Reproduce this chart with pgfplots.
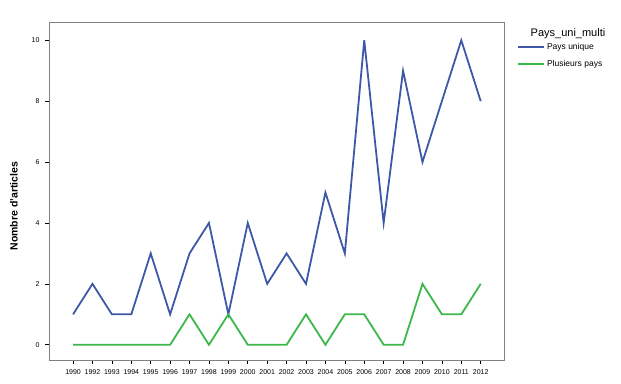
\documentclass[border=0pt]{standalone}
\usepackage{pgfplots}
\pgfplotsset{compat=1.18}
\usepackage{fontspec}
\setmainfont{Liberation Sans}
\definecolor{spssblue}{RGB}{62,88,168}
\definecolor{spssgreen}{RGB}{60,184,74}
\definecolor{framegray}{RGB}{128,128,128}
\begin{document}
\begin{tikzpicture}[x=1pt,y=1pt]
\path[use as bounding box] (0,0) rectangle (621,383);
\begin{axis}[
  at={(49pt,23pt)}, anchor=south west,
  scale only axis, width=455pt, height=338pt,
  xmin=-1.24, xmax=22.2,
  ymin=-0.5, ymax=10.6,
  xtick={0,...,21},
  xticklabels={1990,1992,1993,1994,1995,1996,1997,1998,1999,2000,2001,2002,2003,2004,2005,2006,2007,2008,2009,2010,2011,2012},
  ytick={0,2,4,6,8,10},
  tick align=outside,
  xtick pos=bottom, ytick pos=left,
  major tick length=4pt,
  tick style={black, line width=0.6pt},
  axis line style={framegray, line width=0.8pt},
  ticklabel style={font=\fontsize{7}{8}\selectfont},
  /pgf/number format/assume math mode=true,
  ylabel={\textbf{Nombre d'articles}},
  ylabel style={font=\fontsize{10.5}{12}\selectfont, at={(axis description cs:-0.077,0.455)}, anchor=center, rotate=0},
  xticklabel style={yshift=-2pt},
  yticklabel style={xshift=-2pt},
  legend style={at={(1,1)}, anchor=north west, xshift=12pt, yshift=-18pt, draw=none, fill=none,
    font=\fontsize{8.5}{10}\selectfont, row sep=5pt, inner sep=1pt},
  legend cell align=left,
  legend image code/.code={\draw[#1, line width=1.8pt] (0pt,0pt) -- (26pt,0pt);},
]
\addplot[spssblue, line width=1.8pt, line join=miter] coordinates {
(0,1) (1,2) (2,1) (3,1) (4,3) (5,1) (6,3) (7,4) (8,1) (9,4) (10,2)
(11,3) (12,2) (13,5) (14,3) (15,10) (16,4) (17,9) (18,6) (19,8) (20,10) (21,8)};
\addlegendentry{Pays unique}
\addplot[spssgreen, line width=1.8pt, line join=miter] coordinates {
(0,0) (1,0) (2,0) (3,0) (4,0) (5,0) (6,1) (7,0) (8,1) (9,0) (10,0)
(11,0) (12,1) (13,0) (14,1) (15,1) (16,0) (17,0) (18,2) (19,1) (20,1) (21,2)};
\addlegendentry{Plusieurs pays}
\end{axis}
\node[font=\fontsize{11}{13}\selectfont] at (568,349) {Pays\_uni\_multi};
\end{tikzpicture}
\end{document}
